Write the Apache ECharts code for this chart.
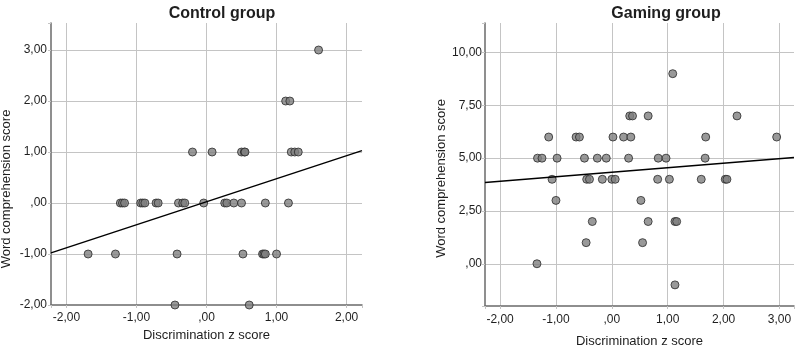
<!DOCTYPE html>
<html>
<head>
<meta charset="utf-8">
<script src="https://cdn.jsdelivr.net/npm/echarts@6/dist/echarts.min.js"></script>
<style>
html, body { margin: 0; padding: 0; background: #fff; }
#chart { width: 796px; height: 347px; }
</style>
</head>
<body>
<div id="chart"></div>
<script>
// Control group: discrimination z score (x) / word comprehension score (y)
var controlX = [
  1.6,
  1.13, 1.19,
  -0.2, 0.08, 0.5, 0.54, 0.55, 1.21, 1.26, 1.31,
  -1.23, -1.2, -1.17, -0.94, -0.91, -0.88, -0.72, -0.69, -0.4, -0.34, -0.31, -0.04, 0.26, 0.29, 0.39, 0.5, 0.84, 1.17,
  -1.69, -1.3, -0.42, 0.52, 0.8, 0.82, 0.84, 1.0,
  -0.45, 0.61
];
var controlY = [
  3,
  2, 2,
  1, 1, 1, 1, 1, 1, 1, 1,
  0, 0, 0, 0, 0, 0, 0, 0, 0, 0, 0, 0, 0, 0, 0, 0, 0, 0,
  -1, -1, -1, -1, -1, -1, -1, -1,
  -2, -2
];

// Gaming group
var gamingX = [
  1.09,
  0.32, 0.37, 0.65, 2.24,
  -1.13, -0.64, -0.58, 0.02, 0.21, 0.34, 1.68, 2.95,
  -1.33, -1.25, -0.98, -0.49, -0.26, -0.1, 0.3, 0.83, 0.97, 1.67,
  -1.07, -0.45, -0.4, -0.17, 0.0, 0.06, 0.82, 1.03, 1.6, 2.03, 2.06,
  -1.0, 0.52,
  -0.35, 0.65, 1.13, 1.16,
  -0.46, 0.55,
  -1.34,
  1.13
];
var gamingY = [
  9,
  7, 7, 7, 7,
  6, 6, 6, 6, 6, 6, 6, 6,
  5, 5, 5, 5, 5, 5, 5, 5, 5, 5,
  4, 4, 4, 4, 4, 4, 4, 4, 4, 4, 4,
  3, 3,
  2, 2, 2, 2,
  1, 1,
  0,
  -1
];

// axis extents
var controlXRange = [-2.22, 2.22];
var controlYRange = [-2, 3.53];
var gamingXRange = [-2.27, 3.26];
var gamingYRange = [-2, 11.4];

var titles = ['Control group', 'Gaming group'];
var xName = 'Discrimination z score';
var yName = 'Word comprehension score';

function pairs(xs, ys) {
  return xs.map(function (x, i) { return [x, ys[i]]; });
}

// least squares fit line across the x range
function fitLine(xs, ys, range) {
  var n = xs.length, sx = 0, sy = 0, sxy = 0, sxx = 0;
  for (var i = 0; i < n; i++) {
    sx += xs[i]; sy += ys[i]; sxy += xs[i] * ys[i]; sxx += xs[i] * xs[i];
  }
  var b = (n * sxy - sx * sy) / (n * sxx - sx * sx);
  var a = (sy - b * sx) / n;
  return range.map(function (x) { return [x, a + b * x]; });
}

function fmt(step) {
  return function (v) {
    var k = v / step;
    if (Math.abs(k - Math.round(k)) > 1e-6) return '';
    var s = v.toFixed(2).replace('.', ',');
    if (s === '0,00' || s === '-0,00') return ',00';
    return s;
  };
}

var font = 'Liberation Sans, Arial, sans-serif';
var textColor = '#1e1e1e';
var gridColor = '#c4c4c4';

function xAxis(idx, range, gap, margin) {
  return {
    gridIndex: idx, type: 'value', min: range[0], max: range[1],
    minInterval: 1, maxInterval: 1,
    name: xName, nameLocation: 'middle', nameGap: gap,
    nameTextStyle: { fontSize: 13, color: textColor, fontFamily: font },
    axisLine: { show: true, onZero: false, lineStyle: { color: '#6a6a6a', width: 1.5 } },
    axisTick: { show: true, length: 3, lineStyle: { color: gridColor } },
    axisLabel: { formatter: fmt(1), margin: margin, fontSize: 12, color: textColor, fontFamily: font },
    splitLine: { show: true, showMinLine: false, showMaxLine: false, lineStyle: { color: gridColor, width: 1 } }
  };
}

function yAxis(idx, range, step, gap, pad, margin) {
  return {
    gridIndex: idx, type: 'value', min: range[0], max: range[1],
    minInterval: step, maxInterval: step,
    name: yName, nameLocation: 'middle', nameGap: gap,
    nameTextStyle: { fontSize: 13, color: textColor, fontFamily: font, padding: [0, pad, 0, 0] },
    axisLine: { show: true, onZero: false, lineStyle: { color: '#6a6a6a', width: 1.5 } },
    axisTick: { show: true, length: 3, lineStyle: { color: gridColor } },
    axisLabel: { formatter: fmt(step), margin: margin, fontSize: 12, color: textColor, fontFamily: font },
    splitLine: { show: true, showMinLine: false, showMaxLine: false, lineStyle: { color: gridColor, width: 1 } }
  };
}

var dot = { color: '#7f7f7f', borderColor: '#2a2a2a', borderWidth: 1 };

var myChart = echarts.init(document.getElementById('chart'));
myChart.setOption({
  animation: false,
  title: [
    { text: titles[0], left: 217, top: 1, textAlign: 'center',
      textStyle: { fontSize: 16, fontWeight: 'bold', color: textColor, fontFamily: font } },
    { text: titles[1], left: 661, top: 1, textAlign: 'center',
      textStyle: { fontSize: 16, fontWeight: 'bold', color: textColor, fontFamily: font } }
  ],
  grid: [
    { left: 51, right: 434, top: 23, bottom: 42, outerBoundsMode: 'none' },
    { left: 485, right: 2, top: 23, bottom: 41, outerBoundsMode: 'none' }
  ],
  xAxis: [xAxis(0, controlXRange, 23, 7), xAxis(1, gamingXRange, 29, 8)],
  yAxis: [yAxis(0, controlYRange, 1, 38, 50, 4), yAxis(1, gamingYRange, 2.5, 36, 28, 3)],
  series: [
    { type: 'scatter', xAxisIndex: 0, yAxisIndex: 0, symbolSize: 8, clip: false,
      data: pairs(controlX, controlY), itemStyle: dot },
    { type: 'line', xAxisIndex: 0, yAxisIndex: 0, showSymbol: false, z: 3,
      data: fitLine(controlX, controlY, controlXRange), lineStyle: { color: '#000', width: 1.5 } },
    { type: 'scatter', xAxisIndex: 1, yAxisIndex: 1, symbolSize: 8, clip: false,
      data: pairs(gamingX, gamingY), itemStyle: dot },
    { type: 'line', xAxisIndex: 1, yAxisIndex: 1, showSymbol: false, z: 3,
      data: fitLine(gamingX, gamingY, gamingXRange), lineStyle: { color: '#000', width: 1.5 } }
  ]
});
</script>
</body>
</html>
